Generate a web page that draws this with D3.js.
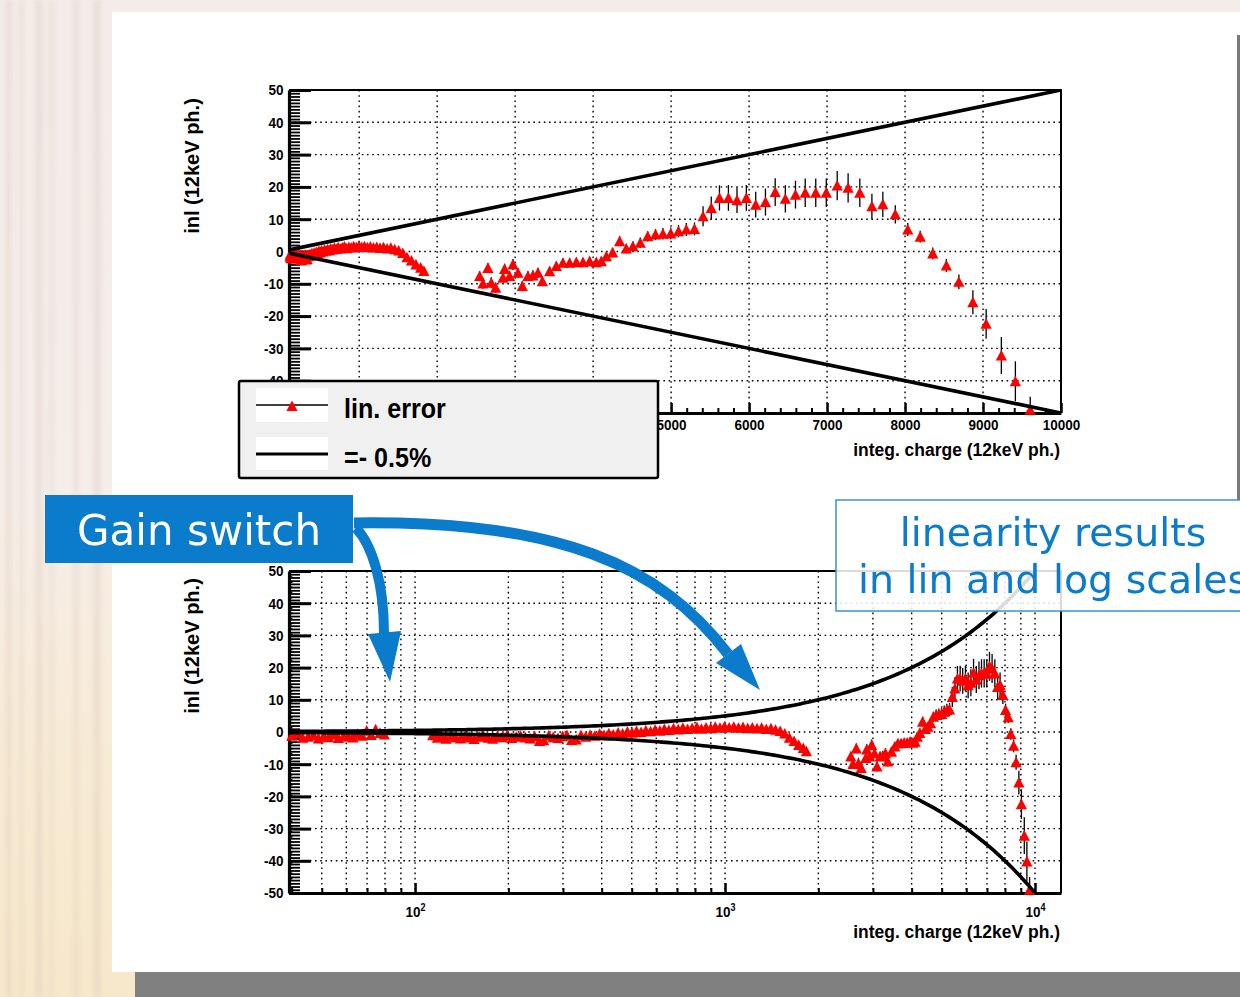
<!DOCTYPE html>
<html>
<head>
<meta charset="utf-8">
<script src="https://cdn.jsdelivr.net/npm/d3@7"></script>
<style>
  body { margin: 0; background: #fff; }
  svg { display: block; }
</style>
</head>
<body>
<div id="chart"></div>
<script>
// integrated charge of each scan point (12keV photons)
const charge = [
  40, 41.7, 43.4, 45.2, 47, 48.8, 50.7, 52.6, 54.6, 56.6, 58.7, 60.8, 63, 65.2, 67.5, 69.8, 72.2, 74.6, 77.1, 79.6,
  114, 118, 122, 126, 131, 135, 140, 145, 150, 155, 161, 166, 172, 178, 184, 191, 198, 205, 212, 219,
  227, 235, 243, 252, 260, 270, 279, 289, 299, 309, 320, 331, 343, 355, 367, 380, 394, 407, 422, 436,
  452, 467, 484, 501, 518, 536, 555, 575, 595, 616, 637, 659, 682, 706, 731, 757, 783, 811, 839, 868,
  899, 930, 963, 996, 1031, 1067, 1105, 1143, 1183, 1225, 1268, 1312, 1358, 1406, 1455, 1506, 1558, 1613, 1670, 1728,
  1788, 1830,
  2545, 2587, 2651, 2694, 2750, 2844, 2865, 2929, 2972, 3036, 3092, 3164, 3228, 3293, 3349, 3442, 3528, 3613, 3699, 3785,
  3870, 3955, 4041, 4105, 4170, 4250, 4340, 4425, 4510, 4605, 4700, 4800, 4895, 4995, 5095, 5195, 5300, 5410, 5515, 5620,
  5735, 5845, 5965, 6085, 6210, 6335, 6465, 6595, 6720, 6855, 6990, 7130, 7270, 7420, 7575, 7715, 7875, 8035, 8195, 8355,
  8530, 8690, 8870, 9040, 9235, 9415, 9605
];
// integral non linearity (12keV photons)
const inl = [
  -1.2, -0.4, -1.8, -1.5, -1.0, -2.0, -1.3, -1.6, -0.8, -1.9, -1.4, -1.1, -1.7, -0.6, -1.2, 0.4, -0.9, 0.8, -0.3, -0.8,
  -1.0, -1.8, -1.4, -2.1, -1.2, -1.6, -2.0, -1.3, -1.7, -2.2, -1.5, -1.1, -1.8, -2.1, -1.4, -1.6, -1.0, -1.9, -1.5, -1.2,
  -1.7, -2.0, -1.3, -2.8, -2.6, -1.1, -1.6, -1.9, -1.3, -1.0, -2.5, -2.3, -1.0, -1.5, -0.9, -1.2, -0.6, -1.0, -0.4, -0.8,
  -0.2, -0.5, 0.1, -0.2, 0.3, 0.0, 0.5, 0.2, 0.7, 0.4, 0.9, 0.6, 1.1, 0.8, 1.3, 0.9, 1.2, 1.5, 1.0, 1.4,
  1.2, 1.6, 1.3, 1.7, 1.4, 1.6, 1.3, 1.5, 1.2, 1.4, 1.1, 1.3, 0.9, 1.1, 0.7, 0.3, -0.5, -1.8, -2.8, -4.0,
  -5.0, -6.0,
  -7.6, -9.9, -5.1, -9.7, -11.2, -8.1, -5.4, -7.6, -4.0, -6.6, -10.7, -7.6, -7.4, -6.6, -9.2, -6.1, -4.5, -3.5, -3.5, -3.3,
  -3.3, -3.0, -3.3, -3.0, -1.5, -0.3, 3.2, 0.9, 1.6, 2.7, 4.7, 5.3, 5.5, 5.6, 6.3, 6.8, 7.0, 10.9, 13.5, 16.6,
  16.6, 15.9, 16.6, 14.5, 15.3, 18.4, 16.3, 17.6, 18.2, 18.2, 18.2, 20.4, 19.7, 18.2, 14.0, 14.6, 11.5, 6.8, 4.6, -0.6,
  -4.3, -9.4, -15.7, -22.4, -32.2, -40.2, -49
];
// error on each point
const inlErr = [
  0.5, 0.5, 0.5, 0.5, 0.5, 0.5, 0.5, 0.5, 0.5, 0.5, 0.5, 0.5, 0.5, 0.5, 0.5, 0.5, 0.5, 0.5, 0.5, 0.5,
  0.5, 0.5, 0.5, 0.5, 0.5, 0.5, 0.5, 0.5, 0.5, 0.5, 0.5, 0.5, 0.5, 0.5, 0.5, 0.5, 0.5, 0.5, 0.5, 0.5,
  0.5, 0.5, 0.5, 0.5, 0.5, 0.5, 0.5, 0.5, 0.5, 0.5, 0.5, 0.5, 0.5, 0.5, 0.5, 0.5, 0.5, 0.5, 0.5, 0.5,
  0.5, 0.5, 0.5, 0.5, 0.5, 0.5, 0.5, 0.5, 0.5, 0.5, 0.5, 0.5, 0.5, 0.5, 0.5, 0.5, 0.5, 0.5, 0.5, 0.5,
  0.5, 0.5, 0.5, 0.5, 0.5, 0.5, 0.5, 0.5, 0.5, 0.5, 0.5, 0.5, 0.5, 0.5, 0.6, 0.6, 0.6, 0.7, 0.7, 0.8,
  0.8, 0.9,
  1.5, 1.6, 1.5, 1.7, 1.6, 1.5, 1.6, 1.5, 1.7, 1.5, 1.6, 1.5, 1.5, 1.6, 1.5, 1.4, 1.4, 1.3, 1.3, 1.3,
  1.3, 1.3, 1.3, 1.3, 1.4, 1.4, 1.5, 1.5, 1.5, 1.6, 1.6, 1.7, 1.8, 1.8, 1.9, 2.0, 2.0, 3.1, 3.5, 3.9,
  4.0, 4.0, 4.0, 4.0, 4.2, 4.3, 4.2, 4.3, 4.4, 4.4, 4.4, 4.5, 4.5, 4.4, 3.9, 3.9, 2.8, 2.0, 1.8, 1.8,
  2.0, 2.3, 3.7, 4.6, 5.7, 6.2, 4.0
];
const inlTicks = [-50, -40, -30, -20, -10, 0, 10, 20, 30, 40, 50];
const linChargeTicks = [1000, 2000, 3000, 4000, 5000, 6000, 7000, 8000, 9000, 10000];
const logDecades = [100, 1000, 10000];
const limitFraction = 0.005; // the +-0.5% band
const legendLabels = ["lin. error", "=- 0.5%"];

const W = 1240, H = 997;
const ROOT_FONT = "'Liberation Sans', Arial, Helvetica, sans-serif";
const SLIDE_FONT = "'DejaVu Sans', Verdana, sans-serif";
const BLUE = "#0b7bcb";
const MARKER = "M0,-5.6L5.6,5L-5.6,5Z";
const plotL = 289, plotR = 1061;

const points = charge.map((c, i) => ({ x: c, y: inl[i], e: inlErr[i] }));

const svg = d3.select("#chart").append("svg")
    .attr("width", W)
    .attr("height", H);
const defs = svg.append("defs");

// ---- slide background ----
const bg = defs.append("linearGradient").attr("id", "bgGrad")
    .attr("x1", 0).attr("y1", 0).attr("x2", 0).attr("y2", 1);
bg.append("stop").attr("offset", "0%").attr("stop-color", "#f3ece9");
bg.append("stop").attr("offset", "50%").attr("stop-color", "#f6eee9");
bg.append("stop").attr("offset", "78%").attr("stop-color", "#f8ebd4");
bg.append("stop").attr("offset", "100%").attr("stop-color", "#f7e8cb");
defs.append("filter").attr("id", "blur")
    .append("feGaussianBlur").attr("stdDeviation", 2.5);

svg.append("rect").attr("width", W).attr("height", H).attr("fill", "url(#bgGrad)");
let stripes = svg.append("g").attr("filter", "url(#blur)");
[[6, 5], [20, 3], [36, 6], [50, 3], [74, 4], [94, 6]].forEach(function (s) {
    stripes.append("rect")
        .attr("x", s[0]).attr("y", 0)
        .attr("width", s[1]).attr("height", H)
        .attr("fill", "#d8c4b4").attr("opacity", 0.35);
});
svg.append("rect").attr("x", 112).attr("y", 12).attr("width", W - 112).attr("height", 960).attr("fill", "#fff");
svg.append("rect").attr("x", 135).attr("y", 972).attr("width", W - 135).attr("height", 25).attr("fill", "#808080");
svg.append("rect").attr("x", 1237).attr("y", 35).attr("width", 3).attr("height", 465).attr("fill", "#7a7a7a");

// condensed bold text the way ROOT prints it
function rootText(g, x, y, str, size, anchor, sx) {
    return g.append("text")
        .attr("transform", `translate(${x},${y}) scale(${sx || 0.9},1)`)
        .attr("text-anchor", anchor || "start")
        .style("font-family", ROOT_FONT)
        .style("font-weight", "bold")
        .style("font-size", size + "px")
        .attr("fill", "#000")
        .text(str);
}

// hidden: labels that sit under the legend box are not printed
function drawPanel(top, bottom, isLog, clipId, titleY, hidden) {
    const g = svg.append("g");
    const x = isLog
        ? d3.scaleLog().domain([39.2, 12130]).range([plotL, plotR])
        : d3.scaleLinear().domain([100, 10000]).range([plotL, plotR]);
    const y = d3.scaleLinear().domain([-50, 50]).range([bottom, top]);

    defs.append("clipPath").attr("id", clipId)
        .append("rect")
        .attr("x", plotL).attr("y", top)
        .attr("width", plotR - plotL).attr("height", bottom - top);

    // dotted grid
    const xGrid = isLog ? x.ticks().filter(v => v > x.domain()[0] && v < x.domain()[1])
                        : linChargeTicks.filter(v => v < 10000);
    const grid = g.append("g")
        .attr("stroke", "#000")
        .attr("stroke-width", 1.4)
        .attr("stroke-dasharray", "1.6,3.6");
    grid.selectAll(".gx").data(xGrid).enter().append("line")
        .attr("x1", d => x(d)).attr("x2", d => x(d))
        .attr("y1", top).attr("y2", bottom);
    grid.selectAll(".gy").data(inlTicks.slice(1, -1)).enter().append("line")
        .attr("x1", plotL).attr("x2", plotR)
        .attr("y1", d => y(d)).attr("y2", d => y(d));

    // frame
    g.append("path")
        .attr("d", `M${plotL},${top}H${plotR}V${bottom}`)
        .attr("fill", "none").attr("stroke", "#000").attr("stroke-width", 2);

    // y axis, ticks inwards
    const yMinor = g.append("g").attr("transform", `translate(${plotL},0)`)
        .call(d3.axisLeft(y).tickValues(d3.range(-50, 51, 1)).tickSize(-11).tickSizeOuter(0).tickFormat(""));
    yMinor.selectAll(".tick line").attr("stroke-width", 1.8);
    const yMajor = g.append("g").attr("transform", `translate(${plotL},0)`)
        .call(d3.axisLeft(y).tickValues(inlTicks).tickSize(-22).tickSizeOuter(0).tickPadding(6)
            .tickFormat(d => hidden.y.indexOf(d) < 0 ? String(d) : ""));
    yMajor.select(".domain").attr("stroke-width", 3.2);
    yMajor.selectAll(".tick line").attr("stroke-width", 3);
    yMajor.selectAll(".tick text")
        .attr("transform", "scale(0.9,1)")
        .style("font-family", ROOT_FONT).style("font-weight", "bold").style("font-size", "15px")
        .attr("fill", "#000");

    // x axis, ticks upwards
    const xMinorVals = isLog ? x.ticks().filter(v => logDecades.indexOf(v) < 0)
                             : d3.range(200, 10001, 200).filter(v => v % 1000 !== 0);
    const xMajorVals = isLog ? logDecades : linChargeTicks;
    const xMinor = g.append("g").attr("transform", `translate(0,${bottom})`)
        .call(d3.axisBottom(x).tickValues(xMinorVals).tickSize(-5).tickSizeOuter(0).tickFormat(""));
    xMinor.selectAll(".tick line").attr("stroke-width", 2);
    xMinor.select(".domain").remove();
    const xMajor = g.append("g").attr("transform", `translate(0,${bottom})`)
        .call(d3.axisBottom(x).tickValues(xMajorVals).tickSize(-10).tickSizeOuter(0)
            .tickPadding(isLog ? 13 : 6)
            .tickFormat(d => hidden.x.indexOf(d) < 0 ? String(d) : ""));
    xMajor.select(".domain").attr("stroke-width", 3.2);
    xMajor.selectAll(".tick line").attr("stroke-width", 2.5);
    const xt = xMajor.selectAll(".tick text")
        .attr("transform", "scale(0.9,1)")
        .style("font-family", ROOT_FONT).style("font-weight", "bold").style("font-size", "15px")
        .attr("fill", "#000");
    if (isLog) {
        xt.each(function (d) {
            const t = d3.select(this);
            t.text("10");
            t.append("tspan").attr("dy", "-0.55em").style("font-size", "10px")
                .text(Math.round(Math.log10(d)));
        });
    }

    // axis titles
    g.append("text")
        .attr("transform", `translate(199,${titleY}) rotate(-90)`)
        .attr("text-anchor", "middle")
        .style("font-family", ROOT_FONT).style("font-weight", "bold").style("font-size", "20px")
        .text("inl (12keV ph.)");
    rootText(g, 1060, bottom + (isLog ? 45 : 43), "integ. charge (12keV ph.)", 19, "end", 0.92);

    // data: error bars then markers
    const visible = points.filter(p => p.x >= x.domain()[0] && p.x <= x.domain()[1]);
    g.append("g").attr("clip-path", `url(#${clipId})`)
        .selectAll("line").data(visible).enter().append("line")
        .attr("x1", d => x(d.x)).attr("x2", d => x(d.x))
        .attr("y1", d => y(d.y - d.e)).attr("y2", d => y(d.y + d.e))
        .attr("stroke", "#000").attr("stroke-width", 1.3);
    g.append("g").selectAll("path").data(visible).enter().append("path")
        .attr("d", MARKER)
        .attr("transform", d => `translate(${x(d.x)},${y(d.y)})`)
        .attr("fill", "#ff0000");

    // +-0.5% limits
    const xs = isLog ? d3.range(0, 201).map(i => 39.2 * Math.pow(10000 / 39.2, i / 200)) : [100, 10000];
    const lim = g.append("g").attr("clip-path", `url(#${clipId})`);
    [1, -1].forEach(function (sgn) {
        lim.append("path")
            .datum(xs)
            .attr("d", d3.line().x(d => x(d)).y(d => y(sgn * limitFraction * d)))
            .attr("fill", "none").attr("stroke", "#000").attr("stroke-width", 3.6);
    });
    return g;
}

drawPanel(90, 413, false, "clipLin", 166, { x: [1000, 2000, 3000, 4000], y: [-50] });

// legend of the linear panel
const lg = svg.append("g");
lg.append("rect").attr("x", 239).attr("y", 381).attr("width", 419).attr("height", 97)
    .attr("rx", 2).attr("fill", "#f0f0f0").attr("stroke", "#000").attr("stroke-width", 2.5);
lg.append("rect").attr("x", 256).attr("y", 388).attr("width", 72).attr("height", 34).attr("fill", "#fff");
lg.append("rect").attr("x", 256).attr("y", 437).attr("width", 72).attr("height", 33).attr("fill", "#fff");
lg.append("line").attr("x1", 256).attr("x2", 328).attr("y1", 405).attr("y2", 405)
    .attr("stroke", "#000").attr("stroke-width", 1.5);
lg.append("path").attr("d", MARKER).attr("transform", "translate(292,406)").attr("fill", "#ff0000");
lg.append("line").attr("x1", 256).attr("x2", 328).attr("y1", 454).attr("y2", 454)
    .attr("stroke", "#000").attr("stroke-width", 3);
rootText(lg, 344, 418, legendLabels[0], 27, "start", 0.93);
rootText(lg, 344, 467, legendLabels[1], 27, "start", 0.93);

drawPanel(571, 893, true, "clipLog", 646, { x: [], y: [] });

// slide annotations
const note = svg.append("g");
note.append("rect").attr("x", 836).attr("y", 500).attr("width", 440).attr("height", 111)
    .attr("fill", "#fff").attr("fill-opacity", 0.86)
    .attr("stroke", "#3d8fd8").attr("stroke-width", 1.5);
note.append("text").attr("x", 1053).attr("y", 546).attr("text-anchor", "middle")
    .style("font-family", SLIDE_FONT).style("font-size", "39.5px").attr("fill", BLUE)
    .text("linearity results");
note.append("text").attr("x", 1053).attr("y", 593).attr("text-anchor", "middle")
    .style("font-family", SLIDE_FONT).style("font-size", "39.5px").attr("fill", BLUE)
    .text("in lin and log scales");

const gain = svg.append("g");
gain.append("rect").attr("x", 45).attr("y", 495).attr("width", 308).attr("height", 68).attr("fill", BLUE);
gain.append("text").attr("x", 77).attr("y", 545)
    .style("font-family", SLIDE_FONT).style("font-size", "42px").attr("fill", "#fff")
    .text("Gain switch");

const arrows = svg.append("g").attr("fill", BLUE);
arrows.append("path")
    .attr("d", "M356,528C372,545 384,582 384,634")
    .attr("fill", "none").attr("stroke", BLUE).attr("stroke-width", 10);
arrows.append("path").attr("d", "M368,634L401,631L390,682Z");
arrows.append("path")
    .attr("d", "M354,523C560,520 660,565 728,654")
    .attr("fill", "none").attr("stroke", BLUE).attr("stroke-width", 11);
arrows.append("path").attr("d", "M716,663L741,644L760,690Z");
</script>
</body>
</html>
